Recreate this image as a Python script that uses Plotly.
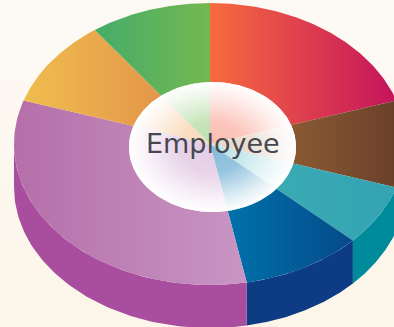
import numpy as np
import plotly.graph_objects as go

# share of each slice, clockwise from 12 o'clock
slice_values = [20, 10, 7, 10, 33, 10, 10]
center_label = "Employee"

# left / right colour of each slice's top face
top_left_colors = ["#f76b3f", "#8a5a33", "#3aaab3", "#0072aa", "#b56fa9", "#f0bd4e", "#45ac69"]
top_right_colors = ["#c4135c", "#683e29", "#34a3b3", "#064a8a", "#c896c4", "#e4964a", "#74b84f"]
side_colors = ["#a01048", "#5a3520", "#008b9c", "#0d3b84", "#a94d9f", "#c9803c", "#3c8f50"]
hole_colors = ["#fbbdb2", "#e6d8ca", "#bfe6e8", "#84bbda", "#e4cce6", "#f9d8b8", "#bde0ae"]

# ellipse geometry, in page pixels
cx, cy, rx, ry = 210, 144, 196, 141
depth = 43
hx, hy, hrx, hry = 212.5, 147, 83.5, 65


def outer(a):
    return cx + rx * np.sin(a), cy - ry * np.cos(a)


def hole_edge(a):
    # where the ray from the pie centre at angle a meets the hole ellipse
    dx, dy = rx * np.sin(a), -ry * np.cos(a)
    ox, oy = (cx - hx) / hrx, (cy - hy) / hry
    px, py = dx / hrx, dy / hry
    A = px**2 + py**2
    B = 2 * (ox * px + oy * py)
    C = ox**2 + oy**2 - 1
    s = (-B + np.sqrt(B**2 - 4 * A * C)) / (2 * A)
    return cx + s * dx, cy + s * dy


def area(x, y, **kw):
    return go.Scatter(x=x, y=y, mode="lines", fill="toself", line=dict(width=0),
                      hoverinfo="skip", showlegend=False, **kw)


fig = go.Figure()

# page background (y axis is flipped, so the scale runs bottom to top here)
fig.add_trace(area([0, 394, 394, 0, 0], [0, 0, 327, 327, 0],
                   fillgradient=dict(type="vertical", colorscale=[[0, "#fcf5e9"], [1, "#fdfaf5"]])))

edges = np.cumsum([0] + slice_values) / sum(slice_values) * 2 * np.pi

# side wall, only the front half shows
for i in range(len(slice_values)):
    a0, a1 = max(edges[i], np.pi / 2), min(edges[i + 1], 3 * np.pi / 2)
    if a1 <= a0:
        continue
    t = np.linspace(a0, a1, 80)
    x, y = outer(t)
    fig.add_trace(area(np.r_[x, x[::-1], x[0]], np.r_[y, y[::-1] + depth, y[0]], fillcolor=side_colors[i]))

# top face ring
for i in range(len(slice_values)):
    t = np.linspace(edges[i], edges[i + 1], 120)
    x, y = outer(t)
    ix, iy = hole_edge(t)
    fig.add_trace(area(np.r_[x, ix[::-1], x[0]], np.r_[y, iy[::-1], y[0]],
                       fillgradient=dict(type="horizontal",
                                         colorscale=[[0, top_left_colors[i]], [1, top_right_colors[i]]])))

# pale slices seen through the hole
for i in range(len(slice_values)):
    t = np.linspace(edges[i], edges[i + 1], 80)
    ix, iy = hole_edge(t)
    fig.add_trace(area(np.r_[cx, ix, cx], np.r_[cy, iy, cy], fillcolor=hole_colors[i]))

# white glow over the hole
t = np.linspace(0, 2 * np.pi, 200)
fig.add_trace(area(hx + hrx * np.cos(t), hy + hry * np.sin(t),
                   fillgradient=dict(type="radial",
                                     colorscale=[[0, "rgba(255,255,255,0)"], [0.4, "rgba(255,255,255,0.15)"],
                                                 [0.8, "rgba(255,255,255,0.75)"], [1, "rgba(255,255,255,1)"]])))

fig.add_annotation(x=212.5, y=143, text=center_label, showarrow=False,
                   font=dict(family="DejaVu Sans", size=27, color="#47474f"))

fig.update_layout(
    width=394, height=327,
    margin=dict(l=0, r=0, t=0, b=0),
    paper_bgcolor="#fcf8f0", plot_bgcolor="#fcf8f0",
    xaxis=dict(range=[0, 394], visible=False),
    yaxis=dict(range=[327, 0], visible=False),
)
fig.write_html("out.html", config=dict(displayModeBar=False),
               post_script="document.body.style.margin='0';")
